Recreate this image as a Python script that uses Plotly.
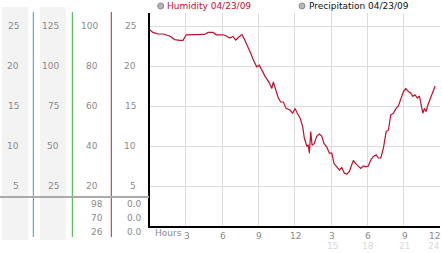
import plotly.graph_objects as go

W, H = 442, 253

# ---- data ----
hours = [0.04, 0.29, 0.70, 1.12, 1.67, 2.08, 2.50, 2.77, 3.04, 3.74, 4.56, 4.83, 5.25, 5.52,
         6.07, 6.35, 6.63, 6.90, 7.12, 7.37, 7.64, 7.87, 8.14, 8.36, 8.58, 8.86, 9.07, 9.27,
         9.55, 9.90, 10.10, 10.23, 10.45, 10.64, 10.84, 11.06, 11.28, 11.61, 11.83, 12.02,
         12.21, 12.44, 12.66, 12.79, 12.99, 13.12, 13.21, 13.32, 13.43, 13.60, 13.82, 14.03,
         14.23, 14.42, 14.64, 14.86, 15.06, 15.25, 15.47, 15.69, 15.88, 16.10, 16.30, 16.51,
         16.65, 16.84, 17.04, 17.26, 17.45, 17.67, 17.89, 18.08, 18.28, 18.50, 18.72, 18.91,
         19.11, 19.32, 19.55, 19.74, 19.93, 20.15, 20.37, 20.56, 20.76, 20.98, 21.17, 21.39,
         21.59, 21.75, 21.94, 22.13, 22.30, 22.44, 22.58, 22.71, 22.85, 22.99, 23.18, 23.40,
         23.60]
humidity = [24.5, 24.2, 24.0, 24.0, 23.75, 23.3, 23.2, 23.2, 23.9, 23.9, 23.95, 24.2, 24.2, 23.9,
            23.9, 23.75, 23.5, 23.7, 23.25, 23.6, 23.95, 23.25, 22.4, 21.6, 20.75, 19.9, 20.1, 19.5,
            18.7, 17.9, 17.2, 18.0, 17.0, 16.0, 15.5, 15.5, 14.7, 14.5, 14.1, 14.7,
            14.1, 13.5, 12.4, 11.0, 10.0, 10.1, 9.1, 11.8, 10.1, 10.3, 11.2, 11.5,
            11.25, 10.3, 9.9, 9.1, 9.1, 7.8, 7.4, 7.0, 7.3, 6.6, 6.5, 6.8,
            7.4, 8.2, 7.8, 7.4, 7.2, 7.5, 7.4, 7.5, 8.25, 8.7, 8.9, 8.5,
            8.5, 9.7, 11.8, 12.0, 13.9, 14.1, 14.7, 15.0, 15.75, 16.8, 17.2, 16.8,
            16.6, 16.2, 16.4, 16.0, 16.25, 14.9, 14.1, 14.7, 14.3, 15.1, 15.8, 16.8,
            17.5]

y_ticks = [5, 10, 15, 20, 25]
col1_labels = ["5", "10", "15", "20", "25"]
col2_labels = ["25", "50", "75", "100", "125"]
col3_labels = ["20", "40", "60", "80", "100"]
col4_labels = ["5", "10", "15", "20", "25"]
low_col3 = ["98", "70", "26"]
low_col4 = ["0.0", "0.0", "0.0"]
x_ticks = [3, 6, 9, 12, 15, 18, 21, 24]
x_labels = ["3", "6", "9", "12", "3", "6", "9", "12"]
x_labels2 = {15: "15", 18: "18", 21: "21", 24: "24"}
legend_items = ["Humidity 04/23/09", "Precipitation 04/23/09"]

FONT = "DejaVu Sans"
GRAY = "#8a8a8a"
RED = "#c0102a"


def px(x):
    return x / W


def py(y):
    return 1 - y / H


# plot area in pixels
X0, X1 = 149.5, 440.0
Y_TOP, Y_BOT = 13.0, 226.0
y_max = (Y_BOT - Y_TOP) / 8.0

fig = go.Figure()

fig.add_trace(go.Scatter(x=hours, y=humidity, mode="lines",
                         line=dict(color=RED, width=1.2), hoverinfo="skip",
                         showlegend=False))

# small tick markers on y axis
fig.add_trace(go.Scatter(x=[-0.28] * len(y_ticks), y=y_ticks, mode="markers",
                         marker=dict(symbol="x-thin", size=5, color="#9a9a9a",
                                     line=dict(width=1, color="#9a9a9a")),
                         cliponaxis=False, showlegend=False, hoverinfo="skip"))
# small tick markers on x axis
fig.add_trace(go.Scatter(x=x_ticks, y=[-0.45] * len(x_ticks), mode="markers",
                         marker=dict(symbol="x-thin", size=5, color="#9a9a9a",
                                     line=dict(width=1, color="#9a9a9a")),
                         cliponaxis=False, showlegend=False, hoverinfo="skip"))

shapes = []
# light gray columns on left panel
for (a, b) in [(1.7, 28.3), (40.0, 65.7)]:
    shapes.append(dict(type="rect", xref="paper", yref="paper",
                       x0=px(a), x1=px(b), y0=py(240), y1=py(7),
                       fillcolor="#f3f3f3", line=dict(width=0), layer="below"))
# colored vertical lines
for xv, col in [(33.3, "#3a9fd0"), (72.3, "#3aaa3a"), (111.3, "#b02a3a")]:
    shapes.append(dict(type="line", xref="paper", yref="paper",
                       x0=px(xv), x1=px(xv), y0=py(237), y1=py(12),
                       line=dict(color=col, width=1)))
# horizontal gray separator
shapes.append(dict(type="line", xref="paper", yref="paper",
                   x0=0, x1=px(149), y0=py(197), y1=py(197),
                   line=dict(color="#aaaaaa", width=2)))
# legend circles
for cx in [160.7, 302.0]:
    shapes.append(dict(type="circle", xref="paper", yref="paper",
                       x0=px(cx - 3), x1=px(cx + 3), y0=py(9), y1=py(3),
                       fillcolor="#b5b5b5", line=dict(color="#8a8a8a", width=1)))

ann = []
for v, a, b, c, d in zip(y_ticks, col1_labels, col2_labels, col3_labels, col4_labels):
    for txt, xr in [(a, 20.5), (b, 60.5), (c, 99.5), (d, 137.5)]:
        ann.append(dict(x=px(xr), y=v, xref="paper", yref="y", text=txt,
                        showarrow=False, xanchor="right", yanchor="middle",
                        font=dict(family=FONT, size=9, color=GRAY)))
for yy, a, b in zip([204.3, 218.3, 232.3], low_col3, low_col4):
    ann.append(dict(x=px(105), y=py(yy), xref="paper", yref="paper", text=a,
                    showarrow=False, xanchor="right", yanchor="middle",
                    font=dict(family=FONT, size=9, color=GRAY)))
    ann.append(dict(x=px(144), y=py(yy), xref="paper", yref="paper", text=b,
                    showarrow=False, xanchor="right", yanchor="middle",
                    font=dict(family=FONT, size=9, color=GRAY)))

ann.append(dict(x=px(153), y=py(233), xref="paper", yref="paper", text="Hours",
                showarrow=False, xanchor="left", yanchor="middle",
                font=dict(family=FONT, size=9, color=GRAY)))
for xv, lab in zip(x_ticks, x_labels):
    last = xv == x_ticks[-1]
    ann.append(dict(x=xv, xshift=2 if last else 1, y=py(236), xref="x", yref="paper", text=lab,
                    showarrow=False, xanchor="right" if last else "center", yanchor="middle",
                    font=dict(family=FONT, size=9, color=GRAY)))
for xv, lab in x_labels2.items():
    last = xv == x_ticks[-1]
    ann.append(dict(x=xv, xshift=2 if last else 1, y=py(245.5), xref="x", yref="paper", text=lab,
                    showarrow=False, xanchor="right" if last else "center", yanchor="middle",
                    font=dict(family=FONT, size=9, color="#d8d8d8")))

ann.append(dict(x=px(164.5), y=py(6.5), xref="paper", yref="paper", text=legend_items[0],
                showarrow=False, xanchor="left", yanchor="middle",
                font=dict(family=FONT, size=9, color=RED)))
ann.append(dict(x=px(306.5), y=py(6.5), xref="paper", yref="paper", text=legend_items[1],
                showarrow=False, xanchor="left", yanchor="middle",
                font=dict(family=FONT, size=9, color="#111111")))

fig.update_layout(
    width=W, height=H, margin=dict(l=0, r=0, t=0, b=0),
    paper_bgcolor="white", plot_bgcolor="white",
    shapes=shapes, annotations=ann, showlegend=False,
    xaxis=dict(domain=[px(X0), px(X1)], range=[0, 24], tickvals=x_ticks,
               showticklabels=False, ticks="", showgrid=True, gridcolor="#dcdcdc",
               gridwidth=1, zeroline=False, showline=True, linecolor="black",
               linewidth=2, fixedrange=True),
    yaxis=dict(domain=[py(Y_BOT), py(Y_TOP)], range=[0, y_max], tickvals=y_ticks,
               showticklabels=False, ticks="", showgrid=True, gridcolor="#dcdcdc",
               gridwidth=1, zeroline=False, showline=True, linecolor="black",
               linewidth=2, fixedrange=True),
)

fig.write_html("out.html", config={"displayModeBar": False})
